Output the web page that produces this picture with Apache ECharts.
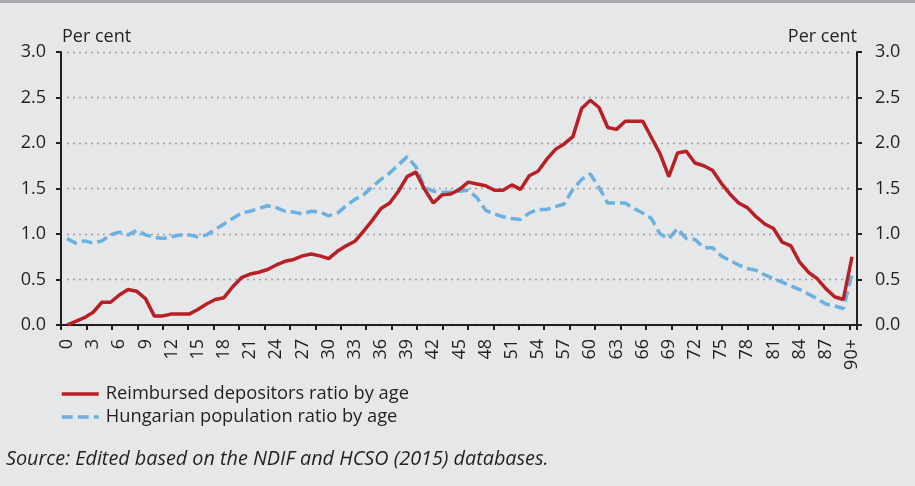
<!DOCTYPE html>
<html>
<head>
<meta charset="utf-8">
<script src="https://cdn.jsdelivr.net/npm/echarts@6/dist/echarts.min.js"></script>
<style>
html,body{margin:0;padding:0;background:#e6e7e8;}
#c{width:915px;height:486px;}
</style>
</head>
<body>
<div id="c"></div>
<script>
const ages = [];
for (let a = 0; a < 90; a++) ages.push(String(a));
ages.push('90+');

const reimbursed = [
  0.00, 0.04, 0.08, 0.14, 0.25, 0.25, 0.33, 0.39, 0.37, 0.29,
  0.10, 0.10, 0.12, 0.12, 0.12, 0.17, 0.23, 0.28, 0.30, 0.42,
  0.52, 0.56, 0.58, 0.61, 0.66, 0.70, 0.72, 0.76, 0.78, 0.76,
  0.73, 0.81, 0.87, 0.92, 1.03, 1.15, 1.28, 1.34, 1.47, 1.63,
  1.68, 1.49, 1.34, 1.43, 1.44, 1.49, 1.57, 1.55, 1.53, 1.48,
  1.48, 1.54, 1.49, 1.64, 1.69, 1.82, 1.93, 1.99, 2.07, 2.38,
  2.47, 2.39, 2.17, 2.15, 2.24, 2.24, 2.24, 2.06, 1.88, 1.63,
  1.89, 1.91, 1.78, 1.75, 1.70, 1.56, 1.44, 1.34, 1.29, 1.19,
  1.11, 1.06, 0.91, 0.87, 0.69, 0.58, 0.51, 0.40, 0.31, 0.28,
  0.75
];

const population = [
  0.95, 0.90, 0.925, 0.90, 0.925, 0.99, 1.02, 0.99, 1.04, 0.99,
  0.965, 0.95, 0.97, 0.99, 0.99, 0.97, 0.99, 1.05, 1.11, 1.17,
  1.23, 1.25, 1.28, 1.31, 1.29, 1.25, 1.24, 1.22, 1.25, 1.24,
  1.20, 1.23, 1.31, 1.38, 1.43, 1.52, 1.60, 1.67, 1.76, 1.85,
  1.74, 1.51, 1.47, 1.46, 1.46, 1.47, 1.48, 1.40, 1.26, 1.22,
  1.19, 1.17, 1.16, 1.23, 1.27, 1.27, 1.30, 1.33, 1.49, 1.60,
  1.66, 1.51, 1.34, 1.34, 1.34, 1.28, 1.23, 1.17, 1.00, 0.95,
  1.06, 0.95, 0.94, 0.85, 0.85, 0.76, 0.71, 0.66, 0.62, 0.60,
  0.55, 0.51, 0.47, 0.43, 0.39, 0.34, 0.29, 0.23, 0.21, 0.18,
  0.56
];

const seriesNames = ['Reimbursed depositors ratio by age', 'Hungarian population ratio by age'];
const yUnit = 'Per cent';
const sourceText = 'Source: Edited based on the NDIF and HCSO (2015) databases.';

const FONT = '"Open Sans", Lato, sans-serif';
const TXT = '#231f20';
const chart = echarts.init(document.getElementById('c'), null, {renderer: 'canvas'});

function yAxisDef(pos, offset, margin, split) {
  return {
    type: 'value', gridIndex: 0, min: 0, max: 3, interval: 0.5, position: pos, offset: offset,
    axisLine: {show: true, lineStyle: {color: '#231f20', width: 2}},
    axisTick: {show: true, length: 5, lineStyle: {color: '#231f20', width: 2}},
    axisLabel: {fontFamily: FONT, fontSize: 18, color: TXT, margin: margin,
      formatter: v => v.toFixed(1)},
    splitLine: split ? {show: true, lineStyle: {color: '#9d9d9d', type: [2, 4], width: 1.3}} : {show: false}
  };
}

chart.setOption({
  backgroundColor: '#e6e7e8',
  animation: false,
  grid: [
    {left: 67, right: 63, top: 52, bottom: 161},
    {left: 61, right: 58, top: 52, bottom: 161}
  ],
  xAxis: [
    {type: 'category', gridIndex: 0, data: ages, boundaryGap: false,
      axisLine: {show: false}, axisTick: {show: false},
      axisLabel: {interval: 2, rotate: 90, fontFamily: FONT, fontSize: 18, color: TXT, margin: 14}},
    {type: 'value', gridIndex: 1, min: -0.224, max: 31.08, interval: 1,
      axisLine: {show: true, onZero: false, lineStyle: {color: '#231f20', width: 2}},
      axisTick: {show: true, length: 5, lineStyle: {color: '#231f20', width: 2}},
      axisLabel: {show: false}, splitLine: {show: false}}
  ],
  yAxis: [
    yAxisDef('left', 6, 15, true),
    yAxisDef('right', 5, 18, false),
    {type: 'value', gridIndex: 1, show: false, min: 0, max: 1}
  ],
  legend: {
    orient: 'vertical', left: 60, top: 385, padding: 0, itemWidth: 37, itemHeight: 12, itemGap: 5,
    itemStyle: {opacity: 0},
    lineStyle: {width: 3.5},
    textStyle: {fontFamily: FONT, fontSize: 18.3, color: TXT, padding: [0, 0, 0, 2]},
    data: seriesNames
  },
  series: [
    {name: seriesNames[0], type: 'line', xAxisIndex: 0, yAxisIndex: 0, data: reimbursed,
      symbol: 'none', lineStyle: {color: '#b72025', width: 3.5}, itemStyle: {color: '#b72025'}, z: 3},
    {name: seriesNames[1], type: 'line', xAxisIndex: 0, yAxisIndex: 0, data: population,
      symbol: 'none', lineStyle: {color: '#6cb0e0', width: 3.5, type: [11, 5]}, itemStyle: {color: '#6cb0e0'}, z: 2}
  ],
  graphic: [
    {type: 'rect', shape: {x: 0, y: 0, width: 915, height: 3}, style: {fill: '#a7a9ac'}},
    {type: 'text', left: 62, top: 28, style: {text: yUnit, font: '18px ' + FONT, fill: TXT}},
    {type: 'text', right: 58, top: 28, style: {text: yUnit, font: '18px ' + FONT, fill: TXT, textAlign: 'right'}},
    {type: 'text', left: 6, top: 449, style: {text: sourceText, font: 'italic 19.8px ' + FONT, fill: TXT}}
  ]
});
</script>
</body>
</html>
